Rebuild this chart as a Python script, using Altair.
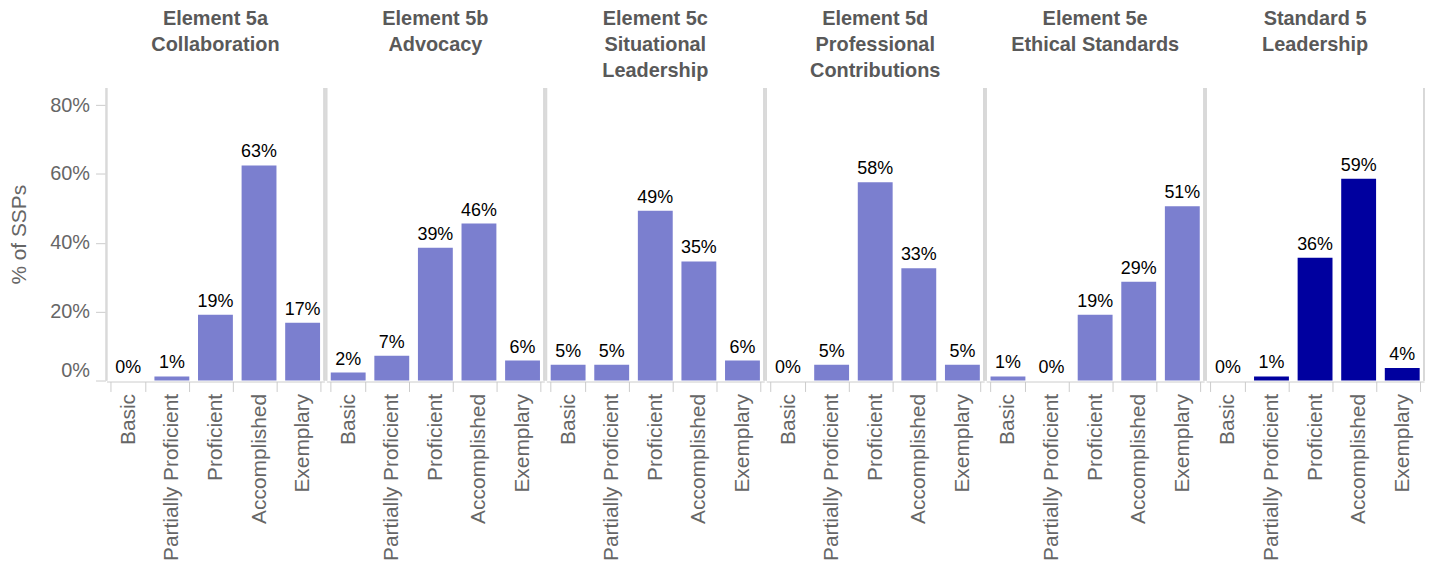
import altair as alt
import pandas as pd

panels = [
    "Element 5a|Collaboration| ",
    "Element 5b|Advocacy| ",
    "Element 5c|Situational|Leadership",
    "Element 5d|Professional|Contributions",
    "Element 5e|Ethical Standards| ",
    "Standard 5|Leadership| ",
]
levels = ["Basic", "Partially Proficient", "Proficient", "Accomplished", "Exemplary"]

# percent of SSPs per rating level
v_5a = [0.0, 1.2, 19.1, 62.5, 16.8]
v_5b = [2.3, 7.2, 38.6, 45.6, 5.8]
v_5c = [4.6, 4.6, 49.3, 34.6, 5.8]
v_5d = [0.0, 4.6, 57.6, 32.6, 4.6]
v_5e = [1.2, 0.0, 19.1, 28.7, 50.6]
v_s5 = [0.0, 1.2, 35.7, 58.6, 3.6]
series = [v_5a, v_5b, v_5c, v_5d, v_5e, v_s5]

light = "#7b7fcf"
dark = "#00009f"
FONT = "Liberation Sans"
W, H = 219, 294

rows = []
for p, vals in zip(panels, series):
    kind = "Standard" if p.startswith("Standard") else "Element"
    for lvl, v in zip(levels, vals):
        rows.append({"panel": p, "level": lvl, "pct": v / 100.0,
                     "label": f"{int(v + 0.5)}%", "kind": kind})
df = pd.DataFrame(rows)

base = alt.Chart().encode(
    x=alt.X("level:N", sort=levels, title=None,
            scale=alt.Scale(paddingInner=0.2, paddingOuter=0.1),
            axis=alt.Axis(labelAngle=-90, tickBand="extent", labelFontSize=21,
                          labelColor="#666666", labelFont=FONT, tickSize=10,
                          tickColor="#cccccc", domainColor="#cccccc",
                          labelPadding=2, labelAlign="right", labelBaseline="middle"))
)

yenc = alt.Y("pct:Q", scale=alt.Scale(domain=[0, 0.85], nice=False),
             axis=alt.Axis(format=".0%", values=[0, 0.2, 0.4, 0.6, 0.8],
                           title="% of SSPs", titleFontSize=21, titleColor="#666666",
                           titleFont=FONT, titleFontWeight="normal", titlePadding=20,
                           labelFontSize=20, labelColor="#666666", labelFont=FONT,
                           labelFlush=True, grid=False, domain=False, tickSize=10,
                           tickColor="#cccccc", labelPadding=6))

bars = base.mark_bar().encode(
    y=yenc,
    color=alt.Color("kind:N", scale=alt.Scale(domain=["Element", "Standard"],
                                              range=[light, dark]), legend=None),
)
text = base.mark_text(baseline="bottom", dy=-4, fontSize=18, font=FONT,
                      color="black").encode(y=alt.Y("pct:Q"), text="label:N")
left_rule = alt.Chart().mark_rule(color="#d9d9d9", strokeWidth=1.5).encode(
    x=alt.value(0), y=alt.value(0), y2=alt.value(H))
right_rule = alt.Chart().mark_rule(color="#d9d9d9", strokeWidth=1.5).encode(
    x=alt.value(W), y=alt.value(0), y2=alt.value(H))

layer = alt.layer(bars, text, left_rule, right_rule, data=df).properties(
    width=W, height=H)

chart = layer.facet(
    column=alt.Column("panel:N", sort=panels, title=None,
                      header=alt.Header(labelExpr="split(datum.value, '|')",
                                        labelFont=FONT, labelFontSize=20,
                                        labelFontWeight="bold", labelColor="#595959",
                                        labelLineHeight=26, labelBaseline="top",
                                        labelPadding=6)),
    spacing=0,
).configure_view(stroke=None).properties(
    padding={"left": 8, "top": 8, "right": 5, "bottom": 0})

chart.save("out.html", embed_options={"renderer": "svg", "actions": False})
